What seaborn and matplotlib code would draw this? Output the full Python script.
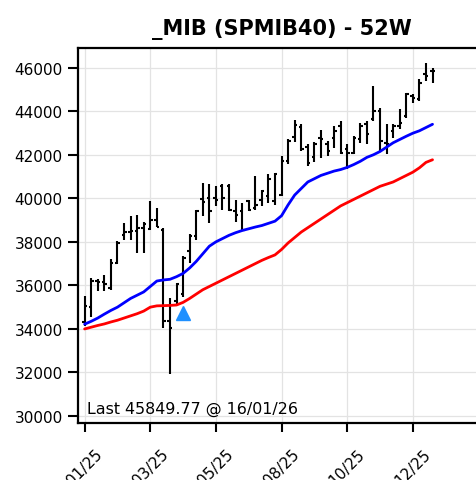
import matplotlib
matplotlib.use("Agg")
import matplotlib.pyplot as plt
import numpy as np
import pandas as pd
import seaborn as sns

# ---- data -------------------------------------------------------------
dates = ["10/01/25", "17/01/25", "24/01/25", "31/01/25",
         "07/02/25", "14/02/25", "21/02/25", "28/02/25",
         "07/03/25", "14/03/25", "21/03/25", "28/03/25",
         "04/04/25", "11/04/25", "18/04/25", "25/04/25",
         "02/05/25", "09/05/25", "16/05/25", "23/05/25", "30/05/25",
         "06/06/25", "13/06/25", "20/06/25", "27/06/25",
         "04/07/25", "11/07/25", "18/07/25", "25/07/25",
         "01/08/25", "08/08/25", "15/08/25", "22/08/25", "29/08/25",
         "05/09/25", "12/09/25", "19/09/25", "26/09/25",
         "03/10/25", "10/10/25", "17/10/25", "24/10/25", "31/10/25",
         "07/11/25", "14/11/25", "21/11/25", "28/11/25",
         "05/12/25", "12/12/25", "19/12/25", "26/12/25",
         "02/01/26", "09/01/26", "16/01/26"]

opens = [34300, 35000, 36200, 36150, 35900, 37050, 38300, 38450, 38500, 38650,
         38600, 39000, 38560, 34350, 35280, 35600, 37570, 38260, 39950, 40000,
         40000, 40560, 40560, 39400, 39400, 39860, 39550, 39940, 40100, 39860,
         40170, 41720, 42800, 43270, 42340, 41880, 42790, 42480, 42790, 43320,
         42250, 42100, 42710, 43400, 43630, 44010, 42560, 43090, 43320, 43780,
         44700, 44550, 45690, 45850]
highs = [35500, 36350, 36300, 36500, 37200, 38050, 38870, 39180, 39250, 38900,
         39860, 39550, 38640, 35430, 36120, 37340, 38340, 39480, 40710, 40640,
         40560, 40640, 40640, 39940, 39780, 39940, 41020, 40400, 41100, 41180,
         41950, 42730, 43580, 43430, 42500, 42570, 43150, 42630, 43320, 43550,
         42480, 42860, 43480, 43550, 45160, 44160, 43400, 43400, 44090, 44850,
         44810, 45470, 46230, 46000]
lows = [34150, 34550, 35750, 35750, 35800, 37000, 38100, 38100, 37500, 37500,
        38550, 38700, 34060, 31920, 35050, 35450, 37050, 38100, 39200, 38850,
        39630, 39470, 39400, 38930, 38540, 39400, 39470, 39630, 39780, 39700,
        40100, 41560, 42570, 42190, 41490, 41650, 41850, 41950, 42330, 42020,
        41330, 42020, 42560, 42480, 43550, 42170, 42020, 42790, 43170, 43700,
        44390, 44470, 45390, 45310]
closes = [35050, 36200, 36150, 36050, 37050, 37950, 38450, 38500, 38650, 38800,
          39000, 38700, 34350, 34060, 36050, 37270, 38260, 39400, 39850, 39400,
          39940, 40000, 39470, 39240, 38550, 39470, 39700, 40330, 40870, 41100,
          41720, 42650, 43350, 42260, 41640, 42500, 42730, 42180, 43090, 42100,
          42100, 42790, 43320, 42940, 44010, 42630, 42480, 43320, 43480, 44780,
          44620, 45310, 45620, 45849.77]

ma_fast = [34220, 34350, 34500, 34680, 34850, 35000, 35200, 35400, 35550, 35700,
           35950, 36200, 36250, 36280, 36400, 36550, 36800, 37100, 37450, 37800,
           38000, 38150, 38300, 38420, 38520, 38600, 38680, 38750, 38850, 38950,
           39200, 39700, 40150, 40450, 40750, 40900, 41050, 41150, 41250, 41320,
           41420, 41550, 41700, 41880, 42000, 42150, 42350, 42550, 42700, 42850,
           42990, 43100, 43250, 43400]
ma_slow = [34000, 34080, 34160, 34230, 34320, 34400, 34500, 34600, 34700, 34820,
           35000, 35060, 35070, 35080, 35100, 35220, 35400, 35600, 35800, 35950,
           36100, 36250, 36400, 36550, 36700, 36850, 37000, 37150, 37280, 37400,
           37650, 37950, 38200, 38450, 38650, 38850, 39050, 39250, 39450, 39650,
           39800, 39950, 40100, 40250, 40400, 40550, 40650, 40750, 40900, 41050,
           41200, 41400, 41650, 41770]

signal_index = [15]
signal_value = [34720]

title = "_MIB (SPMIB40) - 52W"
y_ticks = [30000, 32000, 34000, 36000, 38000, 40000, 42000, 44000, 46000]

# ---- figure -----------------------------------------------------------
sns.set_theme(style="whitegrid")
plt.rcParams["font.family"] = ["DejaVu Sans"]
plt.rcParams.update({"text.color": "black", "axes.labelcolor": "black",
                     "xtick.color": "black", "ytick.color": "black"})

df = pd.DataFrame({"date": dates, "open": opens, "high": highs,
                   "low": lows, "close": closes,
                   "fast": ma_fast, "slow": ma_slow})
df["i"] = np.arange(len(df))

fig = plt.figure(figsize=(4.76, 4.81), dpi=100)
ax = fig.add_axes([0.164, 0.1185, 0.855, 0.7795])

ax.grid(True, color="#e3e3e3", linewidth=0.9)
ax.set_axisbelow(True)

# OHLC bars
w = 0.38
ax.vlines(df["i"], df["low"], df["high"], color="black", linewidth=1.5, zorder=3)
ax.hlines(df["open"], df["i"] - w, df["i"], color="black", linewidth=1.5, zorder=3)
ax.hlines(df["close"], df["i"], df["i"] + w, color="black", linewidth=1.5, zorder=3)

sns.lineplot(data=df, x="i", y="fast", color="blue", linewidth=2, ax=ax, zorder=4)
sns.lineplot(data=df, x="i", y="slow", color="red", linewidth=2, ax=ax, zorder=4)

ax.plot(signal_index, signal_value, linestyle="none", marker="^",
        markersize=10, color="#1f90ff", zorder=5)

last_label = f"Last {closes[-1]:.2f} @ {dates[-1]}"
ax.text(0.022, 0.02, last_label, transform=ax.transAxes, fontsize=11.4,
        ha="left", va="bottom", color="black")

ax.set_xlim(-1, 61)
ax.set_ylim(29680, 46900)
ax.set_yticks(y_ticks)
ax.set_yticklabels([str(v) for v in y_ticks])
tick_pos = list(range(0, len(dates), 10))
ax.set_xticks(tick_pos)
ax.set_xticklabels([dates[k][3:5] + "/" + dates[k][6:] for k in tick_pos],
                   rotation=45, ha="center")
ax.set_xlabel("")
ax.set_ylabel("")
ax.set_title(title, fontsize=15, fontweight="bold", pad=10, color="black")

for s in ax.spines.values():
    s.set_color("black")
    s.set_linewidth(1.6)
ax.tick_params(axis="both", which="major", width=1.5,
               color="black", labelsize=11, labelcolor="black",
               bottom=True, left=True)
ax.tick_params(axis="x", length=6.5, pad=10)
ax.tick_params(axis="y", length=7, pad=4)

fig.savefig("out.png", dpi=100)
